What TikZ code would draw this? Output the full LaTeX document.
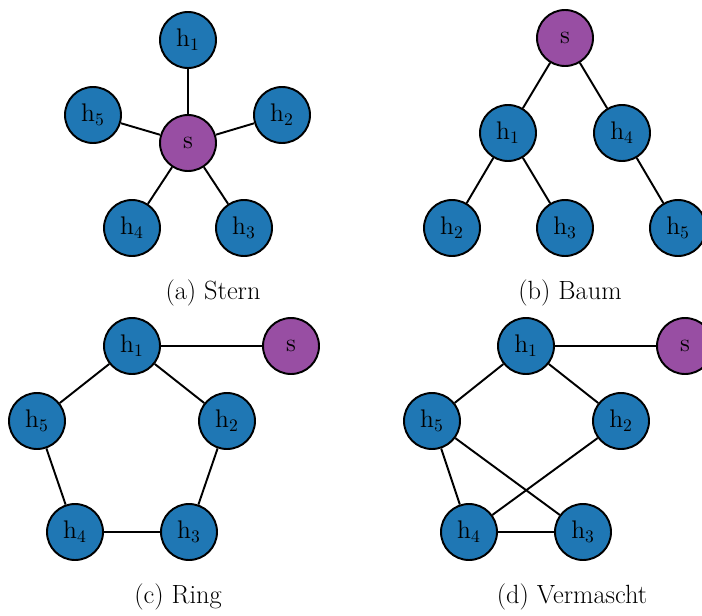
\documentclass[tikz,border=0pt]{standalone}
\usepackage{amsmath}
\usepackage{tikz}

\definecolor{hostblue}{HTML}{1F77B4}
\definecolor{switchpurple}{HTML}{984EA3}

\tikzset{
	host/.style={shape=circle, draw=black, line width=1.1pt, fill=hostblue, minimum size=1.12cm, inner sep=0pt, font=\fontsize{14.5}{17}\selectfont},
	switch/.style={host, fill=switchpurple},
	caption/.style={font=\fontsize{15}{18}\selectfont},
	link/.style={-, line width=1.1pt}
}

\begin{document}
\begin{tikzpicture}[x=0.02cm, y=-0.02cm]
	\useasboundingbox (0,0) rectangle (702,615);

	% (a) Stern
	\node[switch] (as) at (188,143) {s};
	\node[host] (a1) at (188,40)  {h$_1$};
	\node[host] (a2) at (282,115) {h$_2$};
	\node[host] (a3) at (244,228) {h$_3$};
	\node[host] (a4) at (132,228) {h$_4$};
	\node[host] (a5) at (93,115)  {h$_5$};
	\node[caption] (acap) at (213,293) {(a) Stern};

	\path [link] (as) edge (a1);
	\path [link] (as) edge (a2);
	\path [link] (as) edge (a3);
	\path [link] (as) edge (a4);
	\path [link] (as) edge (a5);

	% (b) Baum
	\node[switch] (bs) at (565,38)  {s};
	\node[host] (b1) at (508,133) {h$_1$};
	\node[host] (b4) at (622,133) {h$_4$};
	\node[host] (b2) at (452,228) {h$_2$};
	\node[host] (b3) at (565,228) {h$_3$};
	\node[host] (b5) at (678,228) {h$_5$};
	\node[caption] (bcap) at (570,293) {(b) Baum};

	\path [link] (bs) edge (b1);
	\path [link] (bs) edge (b4);
	\path [link] (b1) edge (b2);
	\path [link] (b1) edge (b3);
	\path [link] (b4) edge (b5);

	% (c) Ring
	\node[host] (c1) at (132,346) {h$_1$};
	\node[switch] (cs) at (291,346) {s};
	\node[host] (c5) at (37,421)  {h$_5$};
	\node[host] (c2) at (227,421) {h$_2$};
	\node[host] (c4) at (75,532)  {h$_4$};
	\node[host] (c3) at (189,532) {h$_3$};
	\node[caption] (ccap) at (178,597) {(c) Ring};

	\path [link] (c1) edge (cs);
	\path [link] (c1) edge (c5);
	\path [link] (c1) edge (c2);
	\path [link] (c5) edge (c4);
	\path [link] (c2) edge (c3);
	\path [link] (c4) edge (c3);

	% (d) Vermascht
	\node[host] (d1) at (526,346) {h$_1$};
	\node[switch] (ds) at (685,346) {s};
	\node[host] (d5) at (432,421) {h$_5$};
	\node[host] (d2) at (621,421) {h$_2$};
	\node[host] (d4) at (469,532) {h$_4$};
	\node[host] (d3) at (583,532) {h$_3$};
	\node[caption] (dcap) at (572,597) {(d) Vermascht};

	\path [link] (d1) edge (ds);
	\path [link] (d1) edge (d5);
	\path [link] (d1) edge (d2);
	\path [link] (d5) edge (d4);
	\path [link] (d5) edge (d3);
	\path [link] (d2) edge (d4);
	\path [link] (d4) edge (d3);
\end{tikzpicture}
\end{document}
